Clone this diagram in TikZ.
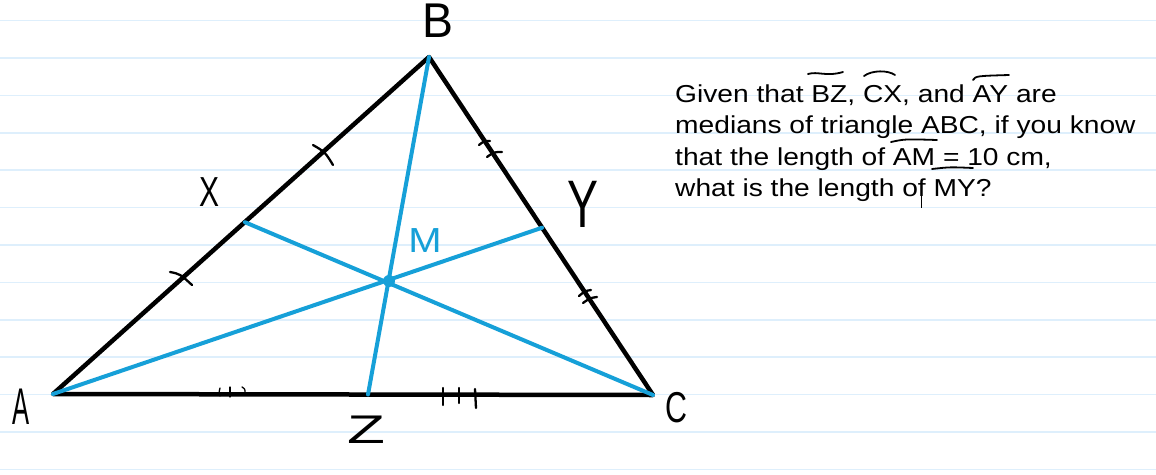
\documentclass[tikz,border=0pt]{standalone}
\usepackage{fontspec}
\setmainfont{Liberation Sans}
\usetikzlibrary{calc}
\definecolor{rulec}{RGB}{222,239,252}
\definecolor{med}{RGB}{22,160,216}
\tikzset{
 tri/.style={line width=4.5pt, line join=round, line cap=round},
 median/.style={med, line width=4pt, line cap=round},
 tickmark/.style={line width=2.3pt, line cap=round},
 hand/.style={inner sep=0pt, font=\fontsize{40}{40}\selectfont},
 ovl/.style={line width=1.8pt, line cap=round},
 qtext/.style={anchor=base west, inner sep=0pt, font=\fontsize{24.5}{24.5}\selectfont},
}
\begin{document}
\begin{tikzpicture}[x=1pt,y=-1pt]
\useasboundingbox (0,0) rectangle (1156,474);
\fill[white] (0,0) rectangle (1156,474);
\foreach \k in {0,...,12} \draw[rulec, line width=1.6pt] (0,20.5+37.4*\k) -- (1156,20.5+37.4*\k);

% points
\coordinate (A) at (53,394);
\coordinate (B) at (429,57);
\coordinate (C) at (653,395);
\coordinate (X) at ($(A)!0.51!(B)$);
\coordinate (Y) at ($(B)!0.505!(C)$);
\coordinate (Z) at ($(A)!0.525!(C)$);
\coordinate (M) at (389,281);

% triangle
\draw[tri] (A) -- (B) -- (C) -- cycle;

% tick marks
\draw[tickmark] (170,272) .. controls (180,274) .. (192,285);
\draw[tickmark] (313,145) .. controls (325,152) .. (333,165);
\draw[tickmark] (479,145) .. controls (484,141) .. (490,141);
\draw[tickmark] (487,157) .. controls (494,152) .. (502,152);
\draw[tickmark] (579,296) .. controls (585,291) .. (591,290);
\draw[tickmark] (583,303) .. controls (590,298) .. (597,297);
\draw[line width=1.3pt, line cap=round] (220,388) .. controls (219,392) .. (220,396);
\draw[line width=1.3pt, line cap=round] (230,387) -- (230,397);
\draw[line width=1.3pt, line cap=round] (242,387) .. controls (245,389) .. (245,393);
\draw[tickmark] (443,388) -- (443,405);
\draw[tickmark] (459,388) -- (459,403);
\draw[tickmark] (475,389) -- (476,408);

% medians
\draw[median] (A) -- (Y);
\draw[median] (B) -- (Z);
\draw[median] (C) -- (X);
\fill[med] (M) circle (6);

% handwritten labels
\node[hand] (lA) at (21.5,406.5) {\scalebox{0.64}[1.29]{A}};
\node[hand] (lB) at (437.5,20.5) {\scalebox{1.16}[1.22]{B}};
\node[hand] (lC) at (676,408) {\scalebox{0.76}[1.08]{C}};
\node[hand] (lX) at (210,192) {\scalebox{0.75}[1.05]{X}};
\node[hand] (lY) at (582.5,204) {\scalebox{1.16}[1.68]{Y}};
\node[hand] (lZ) at (366,429.5) {\scalebox{1.55}[1.0]{Z}};
\node[hand, text=med] (lM) at (425,240.5) {\scalebox{1.0}[0.87]{M}};

% question text
\node[qtext] (q1) at (675,102) {\scalebox{1.15}[1]{Given that BZ, CX, and AY are}};
\node[qtext] (q2) at (675,133.3) {\scalebox{1.15}[1]{medians of triangle ABC, if you know}};
\node[qtext] (q3) at (675,165) {\scalebox{1.15}[1]{that the length of AM = 10 cm,}};
\node[qtext] (q4) at (675,196) {\scalebox{1.15}[1]{what is the length of MY?}};

% overlines
\draw[ovl] (808,74) .. controls (818,71) and (826,77) .. (843,72);
\draw[ovl] (864,76) .. controls (872,70) and (888,70) .. (895,75);
\draw[ovl] (973,80) .. controls (976,76) .. (1009,75);
\draw[ovl] (891,142) .. controls (905,139) .. (937,140);
\draw[ovl] (932,169) .. controls (950,167) .. (973,168);
\draw[line width=1pt] (921,192) -- (921,208);
\end{tikzpicture}
\end{document}
